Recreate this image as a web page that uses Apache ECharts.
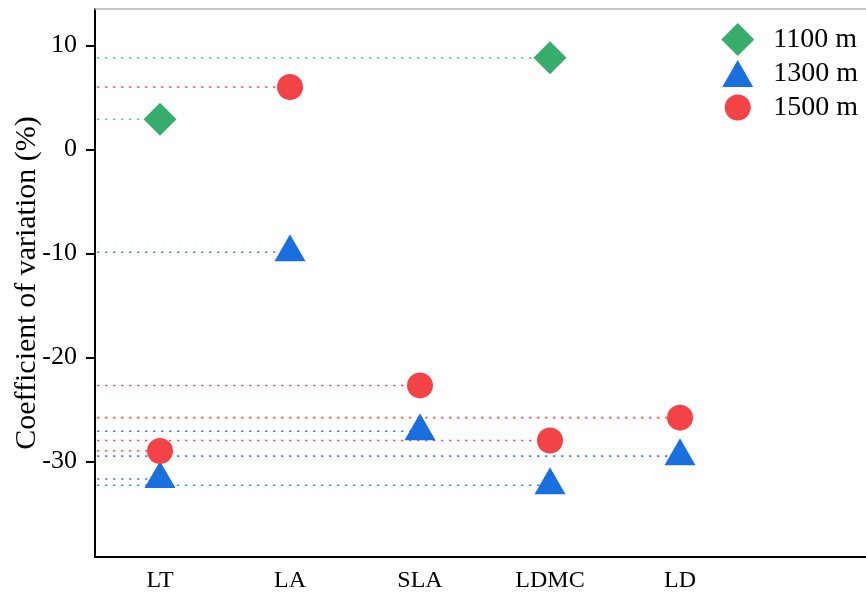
<!DOCTYPE html>
<html>
<head>
<meta charset="utf-8">
<script src="https://cdn.jsdelivr.net/npm/echarts@6/dist/echarts.min.js"></script>
<style>html,body{margin:0;padding:0;background:#fff;}#chart{width:866px;height:597px;}</style>
</head>
<body>
<div id="chart"></div>
<script>
const categories = ['LT', 'LA', 'SLA', 'LDMC', 'LD', ''];
const seriesNames = ['1100 m', '1300 m', '1500 m'];
const values1100 = [2.9, null, null, 8.8, null];
const values1300 = [-31.7, -9.9, -27.1, -32.3, -29.5];
const values1500 = [-29.0, 6.0, -22.7, -28.0, -25.8];
const yTicks = [-30, -20, -10, 0, 10];

const markColors = ['#38ad6b', '#1a6fde', '#f44346'];
const dotColors = ['#5ccf8f', '#3f88f5', '#f55252'];
const symbols = ['diamond', 'triangle', 'circle'];
const legendIcons = [
  'diamond',
  'path://M0,0M33,33M16.5,3L32,30L1,30Z',
  'path://M0,0M33,33M3.5,16.5A13,13,0,1,1,29.5,16.5A13,13,0,1,1,3.5,16.5Z'
];
const sizes = [[33, 33], [31, 27], [26, 26]];
const offsets = [[0, 0], [0, -4.5], [0, 0]];
const allValues = [values1100, values1300, values1500];

const font = 'Liberation Serif, Times New Roman, serif';

function toData(arr) {
  const out = [];
  arr.forEach((v, i) => { if (v !== null && v !== undefined) out.push([i, v]); });
  return out;
}

const series = [];
allValues.forEach((vals, k) => {
  series.push({
    type: 'custom',
    name: 'guide' + k,
    z: 1,
    silent: true,
    data: toData(vals),
    renderItem: function (params, api) {
      const p = api.coord([api.value(0), api.value(1)]);
      return {
        type: 'line',
        shape: { x1: params.coordSys.x + 2, y1: p[1], x2: p[0], y2: p[1] },
        style: { stroke: dotColors[k], lineWidth: 1.6, lineDash: [2.4, 5.6] }
      };
    }
  });
});
allValues.forEach((vals, k) => {
  series.push({
    type: 'scatter',
    name: seriesNames[k],
    z: 3,
    symbol: symbols[k],
    symbolSize: sizes[k],
    symbolOffset: offsets[k],
    itemStyle: { color: markColors[k], opacity: 1 },
    data: toData(vals)
  });
});

const chart = echarts.init(document.getElementById('chart'));
chart.setOption({
  animation: false,
  backgroundColor: '#fff',
  grid: { left: 95, top: 9, width: 780, bottom: 40, containLabel: false, outerBoundsMode: 'none' },
  legend: {
    data: seriesNames.map((n, k) => ({ name: n, icon: legendIcons[k] })),
    orient: 'vertical',
    right: 3,
    top: 18,
    itemWidth: 33,
    itemHeight: 33,
    itemGap: 1,
    textStyle: { fontFamily: font, fontSize: 28, color: '#000', padding: [0, 0, 0, 14] }
  },
  xAxis: [{
    type: 'category',
    data: categories,
    boundaryGap: true,
    axisLine: { onZero: false, lineStyle: { color: '#000', width: 2 } },
    axisTick: { show: false },
    axisLabel: { fontFamily: font, fontSize: 24, color: '#000', margin: 12 },
    splitLine: { show: false }
  }, {
    type: 'category',
    position: 'top',
    data: categories,
    axisLine: { onZero: false, lineStyle: { color: '#b4b4b4', width: 1.5 } },
    axisTick: { show: false },
    axisLabel: { show: false },
    splitLine: { show: false }
  }],
  yAxis: {
    type: 'value',
    min: -39.2,
    max: 13.5,
    name: 'Coefficient of variation (%)',
    nameLocation: 'middle',
    nameGap: 53,
    nameMoveOverlap: false,
    nameTextStyle: { fontFamily: font, fontSize: 30, color: '#000' },
    axisLine: { show: true, onZero: false, lineStyle: { color: '#000', width: 2 } },
    axisTick: { show: true, length: 9, lineStyle: { color: '#000', width: 2 }, customValues: yTicks },
    axisLabel: { fontFamily: font, fontSize: 26, color: '#000', margin: 18, customValues: yTicks },
    splitLine: { show: false }
  },
  series: series
});
</script>
</body>
</html>
